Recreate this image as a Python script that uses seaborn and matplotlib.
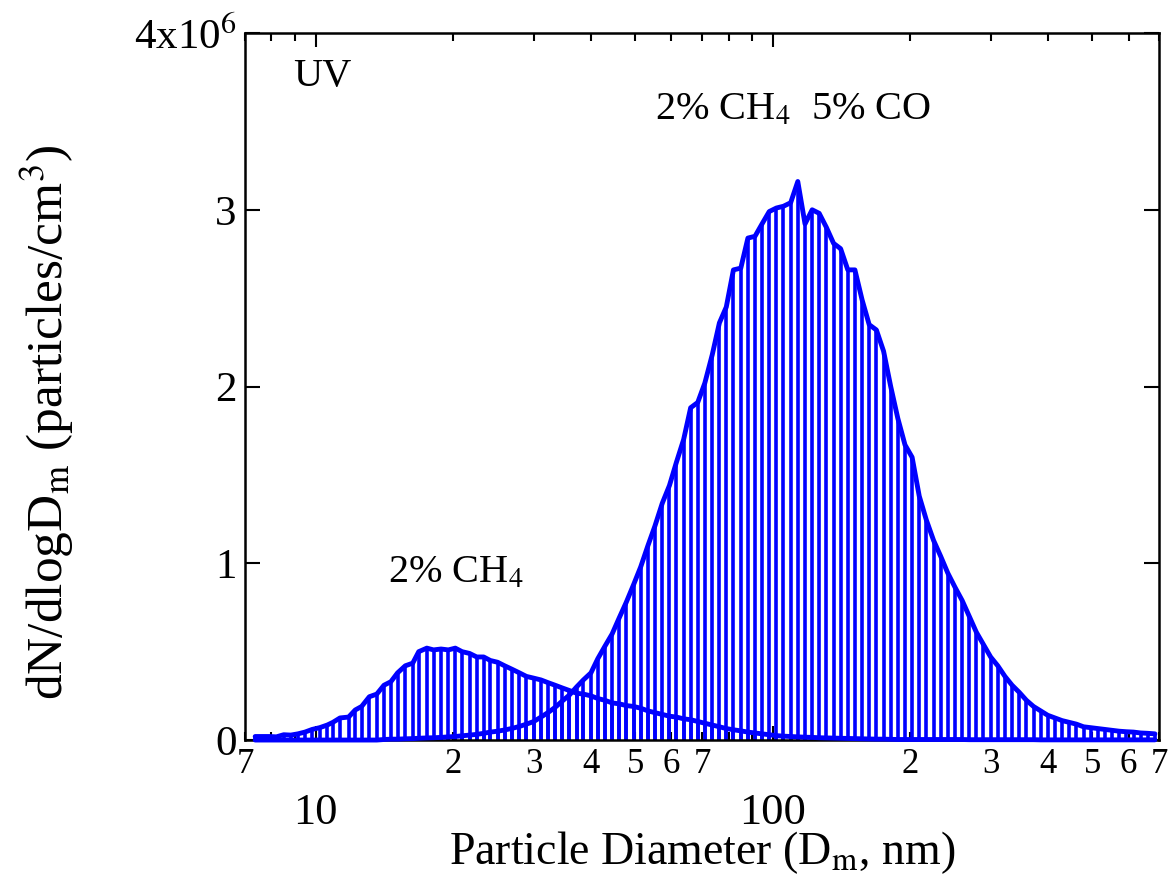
import numpy as np
import pandas as pd
import matplotlib
matplotlib.use("Agg")
import matplotlib.pyplot as plt
import seaborn as sns
from matplotlib.ticker import FixedLocator, FixedFormatter

# SMPS channel mid-point diameters (nm)
diameter_nm = [
    7.37, 7.64, 7.91, 8.20, 8.51, 8.82, 9.14, 9.47, 9.82, 10.2,
    10.6, 10.9, 11.3, 11.8, 12.2, 12.6, 13.1, 13.6, 14.1, 14.6,
    15.1, 15.7, 16.3, 16.8, 17.5, 18.1, 18.8, 19.5, 20.2, 20.9,
    21.7, 22.5, 23.3, 24.1, 25.0, 25.9, 26.9, 27.9, 28.9, 30.0,
    31.1, 32.2, 33.4, 34.6, 35.9, 37.2, 38.5, 40.0, 41.4, 42.9,
    44.5, 46.1, 47.8, 49.6, 51.4, 53.3, 55.2, 57.3, 59.4, 61.5,
    63.8, 66.1, 68.5, 71.0, 73.7, 76.4, 79.1, 82.0, 85.1, 88.2,
    91.4, 94.7, 98.2, 101.8, 105.5, 109.4, 113.4, 117.6, 121.9, 126.3,
    131.0, 135.8, 140.7, 145.9, 151.2, 156.8, 162.5, 168.5, 174.7, 181.1,
    187.7, 194.6, 201.7, 209.1, 216.7, 224.7, 232.9, 241.4, 250.3, 259.5,
    269.0, 278.8, 289.0, 299.6, 310.6, 322.0, 333.8, 346.0, 358.7, 371.8,
    385.4, 399.5, 414.2, 429.4, 445.1, 461.4, 478.3, 495.8, 514.0, 532.8,
    552.3, 572.5, 593.5, 615.3, 637.8, 661.2, 685.4,
]

# dN/dlogDm in units of 1e6 particles/cm^3 : 2% CH4 + 5% CO
ch4_co = [
    0, 0, 0, 0, 0, 0, 0, 0, 0, 0,
    0, 0, 0, 0, 0, 0, 0, 0, 0.003, 0.005,
    0.005, 0.007, 0.008, 0.010, 0.012, 0.013, 0.015, 0.018, 0.020, 0.024,
    0.028, 0.032, 0.038, 0.045, 0.050, 0.057, 0.066, 0.077, 0.090, 0.105,
    0.13, 0.155, 0.185, 0.22, 0.255, 0.30, 0.34, 0.38, 0.46, 0.53,
    0.60, 0.69, 0.78, 0.88, 0.98, 1.10, 1.21, 1.34, 1.44, 1.57,
    1.70, 1.88, 1.91, 2.02, 2.18, 2.36, 2.45, 2.66, 2.67, 2.84,
    2.85, 2.92, 2.99, 3.01, 3.02, 3.04, 3.16, 2.92, 3.00, 2.98,
    2.90, 2.81, 2.78, 2.66, 2.66, 2.49, 2.35, 2.32, 2.20, 2.00,
    1.82, 1.67, 1.60, 1.38, 1.245, 1.13, 1.04, 0.945, 0.865, 0.79,
    0.70, 0.61, 0.54, 0.47, 0.42, 0.36, 0.31, 0.27, 0.225, 0.19,
    0.165, 0.14, 0.125, 0.11, 0.10, 0.09, 0.075, 0.07, 0.065, 0.06,
    0.055, 0.05, 0.047, 0.045, 0.04, 0.038, 0.035,
]

# dN/dlogDm in units of 1e6 particles/cm^3 : 2% CH4 only
ch4_only = [
    0.02, 0.02, 0.02, 0.018, 0.03, 0.028, 0.035, 0.045, 0.06, 0.07,
    0.085, 0.10, 0.125, 0.13, 0.17, 0.19, 0.245, 0.26, 0.31, 0.33,
    0.38, 0.42, 0.435, 0.50, 0.52, 0.51, 0.515, 0.51, 0.52, 0.50,
    0.49, 0.47, 0.47, 0.45, 0.44, 0.42, 0.40, 0.38, 0.36, 0.35,
    0.34, 0.325, 0.31, 0.295, 0.28, 0.265, 0.26, 0.25, 0.235, 0.225,
    0.21, 0.205, 0.195, 0.19, 0.18, 0.165, 0.155, 0.145, 0.135, 0.13,
    0.12, 0.115, 0.105, 0.095, 0.085, 0.075, 0.065, 0.058, 0.052, 0.045,
    0.04, 0.035, 0.03, 0.025, 0.022, 0.02, 0.018, 0.016, 0.015, 0.013,
    0.012, 0.011, 0.01, 0.009, 0.008, 0.007, 0.006, 0.005, 0.005, 0.004,
    0.003, 0.003, 0.003, 0.003, 0.003, 0.003, 0.003, 0.003, 0.003, 0.003,
    0.002, 0.002, 0.002, 0.002, 0.002, 0.002, 0.002, 0.002, 0.002, 0.002,
    0.001, 0.001, 0.001, 0.001, 0.001, 0.001, 0.001, 0.001, 0.001, 0.001,
    0.001, 0.001, 0.001, 0.001, 0.001, 0.001, 0.001,
]

series_names = ["2% CH4 5% CO", "2% CH4"]
ytick_vals = [0, 1, 2, 3, 4]
ytick_labels = ["0", "1", "2", "3", "4x10$^{6}$"]
xmajor_vals = [10, 100]
xmajor_labels = ["10", "100"]
xminor_vals = [7, 8, 9, 20, 30, 40, 50, 60, 70, 80, 90, 200, 300, 400, 500, 600, 700]
xminor_labels = ["7", "", "", "2", "3", "4", "5", "6", "7", "", "", "2", "3", "4", "5", "6", "7"]

sns.set_theme(style="ticks")
plt.rcParams["font.family"] = ["Liberation Serif", "DejaVu Serif"]
plt.rcParams["mathtext.fontset"] = "stix"
for key in ["text.color", "axes.labelcolor", "xtick.color", "ytick.color", "axes.edgecolor"]:
    plt.rcParams[key] = "black"

BLUE = "#0000ff"
scale = 1e6

df = pd.DataFrame({
    "d": diameter_nm + diameter_nm,
    "n": list(np.array(ch4_co) * scale) + list(np.array(ch4_only) * scale),
    "series": [series_names[0]] * len(diameter_nm) + [series_names[1]] * len(diameter_nm),
})

fig = plt.figure(figsize=(11.72, 8.81), dpi=100)
ax = fig.add_axes([0.209, 0.16, 0.780, 0.8025])

ax.vlines(diameter_nm, 0, np.array(ch4_co) * scale, color=BLUE, lw=2.6, zorder=2)
ax.vlines(diameter_nm, 0, np.array(ch4_only) * scale, color=BLUE, lw=2.6, zorder=2)
sns.lineplot(data=df, x="d", y="n", hue="series", palette=[BLUE, BLUE],
             estimator=None, sort=False, lw=3.5, legend=False, ax=ax, zorder=3)
for ln in ax.lines:
    ln.set_clip_on(False)
    ln.set_solid_joinstyle("round")

ax.set_xscale("log")
ax.set_xlim(7, 700)
ax.set_ylim(0, 4 * scale)

ax.xaxis.set_major_locator(FixedLocator(xmajor_vals))
ax.xaxis.set_major_formatter(FixedFormatter(xmajor_labels))
ax.xaxis.set_minor_locator(FixedLocator(xminor_vals))
ax.xaxis.set_minor_formatter(FixedFormatter(xminor_labels))
ax.yaxis.set_major_locator(FixedLocator([v * scale for v in ytick_vals]))
ax.yaxis.set_major_formatter(FixedFormatter(ytick_labels))

for s in ax.spines.values():
    s.set_linewidth(1.8)
    s.set_color("black")
    s.set_visible(True)

ax.tick_params(which="both", direction="in", top=True, right=True, colors="black")
ax.tick_params(axis="x", which="major", length=10, width=1.5, pad=38, labelsize=32)
ax.tick_params(axis="x", which="minor", length=6, width=1.5, pad=6, labelsize=25)
ax.tick_params(axis="y", which="major", length=11, width=1.5, pad=6, labelsize=31)
ax.tick_params(axis="y", which="minor", length=0)

ax.set_xlabel("Particle Diameter (D$_\\mathrm{m}$, nm)", fontsize=33)
ax.xaxis.set_label_coords(0.5, -0.126)
ax.set_ylabel("dN/dlogD$_\\mathrm{m}$ (particles/cm$^{3}$)", fontsize=37)
ax.yaxis.set_label_coords(-0.185, 0.45)

ax.text(0.0525, 0.939, "UV", transform=ax.transAxes, fontsize=29, va="center", ha="left")
ax.text(0.449, 0.891, "2% CH$_4$  5% CO", transform=ax.transAxes, fontsize=29, va="center", ha="left")
ax.text(0.156, 0.236, "2% CH$_4$", transform=ax.transAxes, fontsize=29, va="center", ha="left")

ax.grid(False)
fig.patch.set_facecolor("white")
fig.savefig("out.png", dpi=100, facecolor="white")
